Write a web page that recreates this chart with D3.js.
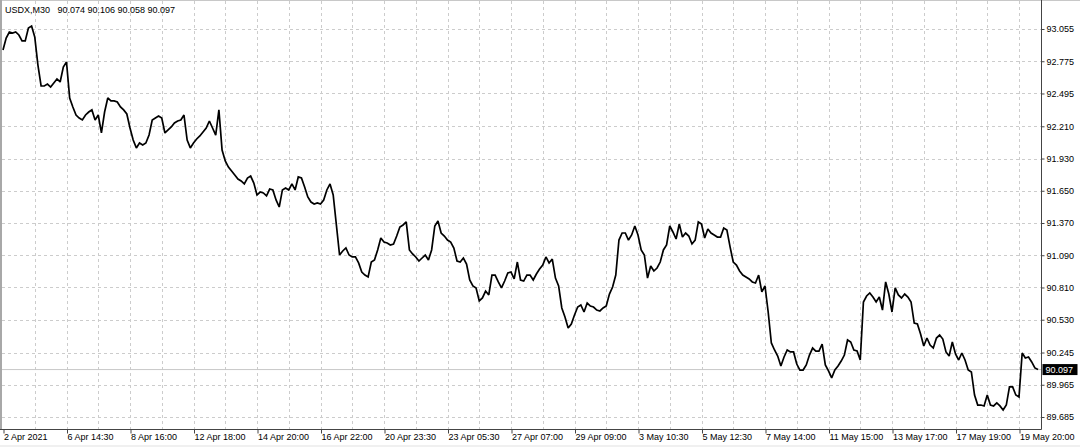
<!DOCTYPE html>
<html><head><meta charset="utf-8">
<script src="https://cdn.jsdelivr.net/npm/d3@7"></script>
<style>
html,body{margin:0;padding:0;background:#fff;}
svg{display:block;font-family:"Liberation Sans",Arial,sans-serif;}
.hdr{white-space:pre;}
</style></head>
<body>
<svg id="c" width="1080" height="447"></svg>
<script>
const symbol = "USDX,M30";
const lastOHLC = [90.074, 90.106, 90.058, 90.097];
const timeLabels = ["2 Apr 2021","6 Apr 14:30","8 Apr 16:00","12 Apr 18:00","14 Apr 20:00","16 Apr 22:00","20 Apr 23:30","23 Apr 05:30","27 Apr 07:00","29 Apr 09:00","3 May 10:30","5 May 12:30","7 May 14:00","11 May 15:00","13 May 17:00","17 May 19:00","19 May 20:00"];
const priceTicks = [93.055,92.775,92.495,92.210,91.930,91.650,91.370,91.090,90.810,90.530,90.245,89.965,89.685];
const closes = [
92.873,92.977,93.029,93.020,93.029,93.003,92.951,92.951,93.064,93.081,
92.986,92.742,92.560,92.560,92.577,92.551,92.586,92.621,92.595,92.725,
92.768,92.456,92.378,92.308,92.282,92.265,92.308,92.334,92.352,92.265,
92.308,92.152,92.334,92.456,92.430,92.430,92.421,92.378,92.352,92.317,
92.195,92.091,92.022,92.065,92.048,92.065,92.134,92.265,92.282,92.299,
92.282,92.152,92.178,92.204,92.239,92.256,92.265,92.308,92.091,92.022,
92.065,92.100,92.126,92.160,92.195,92.256,92.195,92.134,92.352,92.004,
91.909,91.856,91.822,91.787,91.752,91.735,91.709,91.761,91.778,91.717,
91.613,91.639,91.631,91.605,91.665,91.657,91.570,91.509,91.657,91.674,
91.657,91.709,91.657,91.770,91.761,91.683,91.596,91.552,91.535,91.544,
91.535,91.570,91.657,91.709,91.613,91.353,91.092,91.127,91.153,91.092,
91.075,91.075,91.023,90.944,90.918,90.901,91.031,91.049,91.136,91.240,
91.205,91.196,91.179,91.188,91.257,91.335,91.353,91.379,91.136,91.101,
91.075,91.040,91.066,91.092,91.049,91.136,91.344,91.387,91.283,91.257,
91.222,91.205,91.153,91.040,91.031,91.066,91.014,90.875,90.823,90.806,
90.693,90.719,90.779,90.745,90.918,90.918,90.858,90.806,90.866,90.936,
90.944,90.884,91.031,90.875,90.866,90.918,90.918,90.875,90.927,90.970,
91.005,91.075,91.023,91.057,90.892,90.823,90.632,90.553,90.458,90.493,
90.571,90.640,90.658,90.597,90.675,90.649,90.640,90.614,90.606,90.632,
90.649,90.753,90.814,90.918,91.222,91.283,91.283,91.222,91.266,91.344,
91.266,91.136,91.092,90.892,90.997,90.953,90.979,91.031,91.136,91.179,
91.344,91.292,91.231,91.361,91.248,91.283,91.257,91.188,91.222,91.379,
91.361,91.240,91.318,91.283,91.266,91.248,91.248,91.327,91.309,91.162,
91.031,91.005,90.953,90.918,90.901,90.884,90.858,90.849,90.918,90.771,
90.823,90.597,90.328,90.267,90.215,90.128,90.206,90.267,90.250,90.250,
90.145,90.093,90.093,90.137,90.223,90.284,90.258,90.258,90.319,90.137,
90.085,90.024,90.093,90.128,90.171,90.223,90.354,90.336,90.267,90.258,
90.180,90.684,90.736,90.762,90.727,90.684,90.727,90.614,90.858,90.753,
90.597,90.806,90.745,90.719,90.753,90.727,90.684,90.501,90.493,90.406,
90.302,90.371,90.310,90.284,90.371,90.397,90.362,90.250,90.215,90.336,
90.232,90.180,90.241,90.180,90.093,90.076,89.876,89.789,89.789,89.781,
89.876,89.789,89.781,89.807,89.781,89.746,89.789,89.946,89.946,89.876,
89.859,90.241,90.197,90.206,90.163,90.111,90.097
];

const W = 1080, H = 447;
const svg = d3.select("#c");
const axisX = 1041.5, axisY = 429.5;
const samplesPerLabel = 20;

const x = d3.scaleLinear().domain([0, (timeLabels.length - 1) * samplesPerLabel]).range([3, 1019]);
const y = d3.scaleLinear().domain([89.685, 93.055]).range([417, 29]);

// background strips
svg.append("rect").attr("x",0).attr("y",0).attr("width",W).attr("height",H).attr("fill","#fff");
svg.append("rect").attr("x",0).attr("y",445).attr("width",W).attr("height",2).attr("fill","#f0f0f0");
svg.append("line").attr("x1",0).attr("x2",W).attr("y1",0.5).attr("y2",0.5).attr("stroke","#c8c8c8");
svg.append("rect").attr("x",0).attr("y",0).attr("width",2).attr("height",axisY).attr("fill","#a8a8a8");

// grid
const grid = svg.append("g").attr("stroke","#cccccc").attr("stroke-dasharray","3,3").attr("stroke-width",1);
priceTicks.forEach(p => {
  const yy = Math.round(y(p)) + 0.5;
  grid.append("line").attr("x1",2).attr("x2",axisX).attr("y1",yy).attr("y2",yy);
});
const halfStep = samplesPerLabel / 2;
d3.range(halfStep, x.domain()[1] + 1, halfStep).forEach(i => {
  const xx = Math.round(x(i)) + 0.5;
  grid.append("line").attr("x1",xx).attr("x2",xx).attr("y1",1).attr("y2",axisY);
});

// current price line
const lastPrice = lastOHLC[3];
svg.append("line").attr("x1",2).attr("x2",axisX).attr("y1",y(lastPrice)).attr("y2",y(lastPrice))
  .attr("stroke","#c8c8c8").attr("stroke-width",1);

// price line
const line = d3.line().x((d,i) => x(i)).y(d => y(d));
svg.append("path").datum(closes).attr("d", line).attr("fill","none")
  .attr("stroke","#000").attr("stroke-width",1.7).attr("stroke-linejoin","miter").attr("stroke-miterlimit",2);

// axes
const yAxis = d3.axisRight(y).tickValues(priceTicks).tickFormat(d3.format(".3f")).tickSize(3).tickPadding(2);
const gy = svg.append("g").attr("transform",`translate(${axisX},0)`).call(yAxis);
gy.select(".domain").remove();
gy.selectAll("line").attr("stroke","#444");
gy.selectAll("text").attr("font-size","9px").attr("fill","#000").attr("font-family","Liberation Sans, Arial, sans-serif");

const xAxis = d3.axisBottom(x).tickValues(d3.range(0, x.domain()[1] + 1, samplesPerLabel))
  .tickFormat((d,i) => timeLabels[i]).tickSize(4).tickPadding(2);
const gx = svg.append("g").attr("transform",`translate(0.5,${axisY})`).call(xAxis);
gx.select(".domain").remove();
gx.selectAll("line").attr("stroke","#444");
gx.selectAll("text").attr("text-anchor","start").attr("x",0).attr("dy","0.71em").attr("y",4)
  .attr("font-size","9px").attr("fill","#000").attr("font-family","Liberation Sans, Arial, sans-serif");

svg.append("line").attr("x1",axisX).attr("x2",axisX).attr("y1",0).attr("y2",axisY).attr("stroke","#444");
svg.append("line").attr("x1",0).attr("x2",axisX).attr("y1",axisY).attr("y2",axisY).attr("stroke","#444");

// last price box
const ly = y(lastPrice);
svg.append("rect").attr("x",axisX+1).attr("y",ly-5.5).attr("width",35).attr("height",11).attr("fill","#000");
svg.append("text").attr("x",axisX+4).attr("y",ly).attr("dy","0.35em").attr("font-size","9px").attr("fill","#fff")
  .text(d3.format(".3f")(lastPrice));

// header
svg.append("text").attr("class","hdr").attr("x",5).attr("y",13).attr("font-size","9px").attr("fill","#000")
  .text(symbol + "   " + lastOHLC.map(d3.format(".3f")).join(" "));
</script>
</body></html>
